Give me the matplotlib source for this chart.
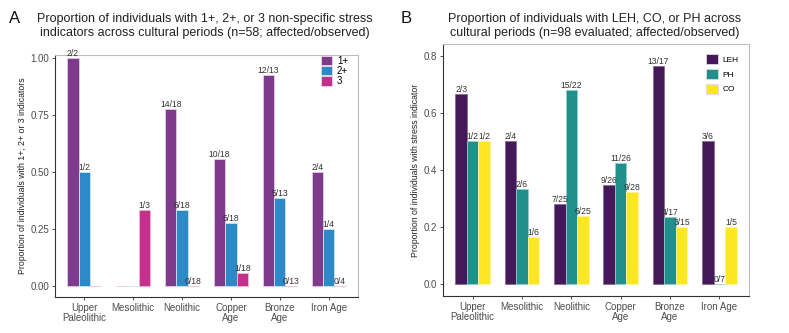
import numpy as np
import matplotlib
matplotlib.use("Agg")
import matplotlib.pyplot as plt
from matplotlib.patches import Patch

plt.rcParams['font.family'] = ['Liberation Sans', 'DejaVu Sans']

# ---- data ----
periods = ["Upper\nPaleolithic", "Mesolithic", "Neolithic", "Copper\nAge", "Bronze\nAge", "Iron Age"]

# panel A: affected / observed counts
a_one_n = [2, 0, 14, 10, 12, 2]
a_two_n = [1, 0, 6, 5, 5, 1]
a_three_n = [0, 1, 0, 1, 0, 0]
a_obs = [2, 3, 18, 18, 13, 4]
a_one_show = [True, False, True, True, True, True]
a_two_show = [True, False, True, True, True, True]
a_three_show = [False, True, True, True, True, True]

# panel B: affected / observed counts
leh_n = [2, 2, 7, 9, 13, 3]
leh_d = [3, 4, 25, 26, 17, 6]
ph_n = [1, 2, 15, 11, 4, 0]
ph_d = [2, 6, 22, 26, 17, 7]
co_n = [1, 1, 6, 9, 3, 1]
co_d = [2, 6, 25, 28, 15, 5]

a_colors = ["#7E3B8B", "#2E89C8", "#C62F8C"]
b_colors = ["#45185A", "#21908C", "#FDE725"]

TXT = "#4D4D4D"


def style_axes(ax):
    for s in ["top", "right"]:
        ax.spines[s].set_color("#BDBDBD")
        ax.spines[s].set_linewidth(0.8)
    for s in ["left", "bottom"]:
        ax.spines[s].set_color("#333333")
        ax.spines[s].set_linewidth(0.8)
    ax.tick_params(axis="both", length=2.5, width=0.6, color="#333333",
                   labelsize=7, labelcolor=TXT, pad=1.5)


def draw_group(ax, series, colors, edge, label_size=6.2):
    x = np.arange(len(periods))
    w = 0.7 / len(series)
    for i, (vals, labels) in enumerate(series):
        pos = x + (i - (len(series) - 1) / 2) * w
        ax.bar(pos, vals, width=w, color=colors[i], edgecolor=edge[i], linewidth=0.6)
        for px, v, lb in zip(pos, vals, labels):
            if lb:
                ax.text(px, v, lb, ha="center", va="bottom", fontsize=label_size,
                        color="#333333")
    ax.set_xticks(x)
    ax.set_xticklabels(periods, linespacing=1.1)
    ax.set_xlim(-0.6, len(periods) - 0.4)


fig = plt.figure(figsize=(7.89, 3.33), dpi=100)

# ---- panel A ----
axA = fig.add_axes([0.0697, 0.108, 0.384, 0.727])
sA = []
for n, show in [(a_one_n, a_one_show), (a_two_n, a_two_show), (a_three_n, a_three_show)]:
    vals = [k / d for k, d in zip(n, a_obs)]
    labs = [f"{k}/{d}" if s else "" for k, d, s in zip(n, a_obs, show)]
    sA.append((vals, labs))
draw_group(axA, sA, a_colors, ["#E6C9E8", "#CFE3F4", "#F0B8D6"])
axA.set_ylim(-0.048, 1.013)
axA.set_yticks([0, 0.25, 0.5, 0.75, 1.0])
axA.set_yticklabels(["0.00", "0.25", "0.50", "0.75", "1.00"])
axA.set_ylabel("Proportion of individuals with 1+, 2+ or 3 indicators", fontsize=6.3, color="#222222", labelpad=2.5)
style_axes(axA)
axA.legend(handles=[Patch(facecolor=c, edgecolor="#E8D8EC", linewidth=0.6, label=l)
                    for c, l in zip(a_colors, ["1+", "2+", "3"])],
           loc="upper left", bbox_to_anchor=(0.878, 0.996), frameon=False, fontsize=7,
           handlelength=1.13, handleheight=1.13, handletextpad=0.5, labelspacing=0.0,
           borderpad=0, borderaxespad=0)
fig.text(0.26, 0.922, "Proportion of individuals with 1+, 2+, or 3 non-specific stress\n"
         "indicators across cultural periods (n=58; affected/observed)",
         ha="center", va="center", fontsize=9, color="#222222", linespacing=1.28)
fig.text(0.012, 0.93, "A", fontsize=12, color="#111111")

# ---- panel B ----
axB = fig.add_axes([0.5615, 0.111, 0.3878, 0.757])
sB = []
for n, d in [(leh_n, leh_d), (ph_n, ph_d), (co_n, co_d)]:
    vals = [k / m for k, m in zip(n, d)]
    labs = [f"{k}/{m}" for k, m in zip(n, d)]
    sB.append((vals, labs))
draw_group(axB, sB, b_colors, ["#8A6A96", "#8FD0CC", "#FFF4A0"])
axB.set_ylim(-0.042, 0.842)
axB.set_yticks([0, 0.2, 0.4, 0.6, 0.8])
axB.set_yticklabels(["0.0", "0.2", "0.4", "0.6", "0.8"])
axB.set_ylabel("Proportion of individuals with stress indicator", fontsize=6.3, color="#222222", labelpad=2.5)
style_axes(axB)
axB.legend(handles=[Patch(facecolor=c, edgecolor="#DDDDDD", linewidth=0.6, label=l)
                    for c, l in zip(b_colors, ["LEH", "PH", "CO"])],
           loc="upper left", bbox_to_anchor=(0.859, 0.960), frameon=False, fontsize=6,
           handlelength=1.44, handleheight=1.44, handletextpad=0.6, labelspacing=0.6,
           borderpad=0, borderaxespad=0)
fig.text(0.754, 0.922, "Proportion of individuals with LEH, CO, or PH across\n"
         "cultural periods (n=98 evaluated; affected/observed)",
         ha="center", va="center", fontsize=9, color="#222222", linespacing=1.28)
fig.text(0.508, 0.93, "B", fontsize=12, color="#111111")

fig.savefig("out.png", dpi=100)
